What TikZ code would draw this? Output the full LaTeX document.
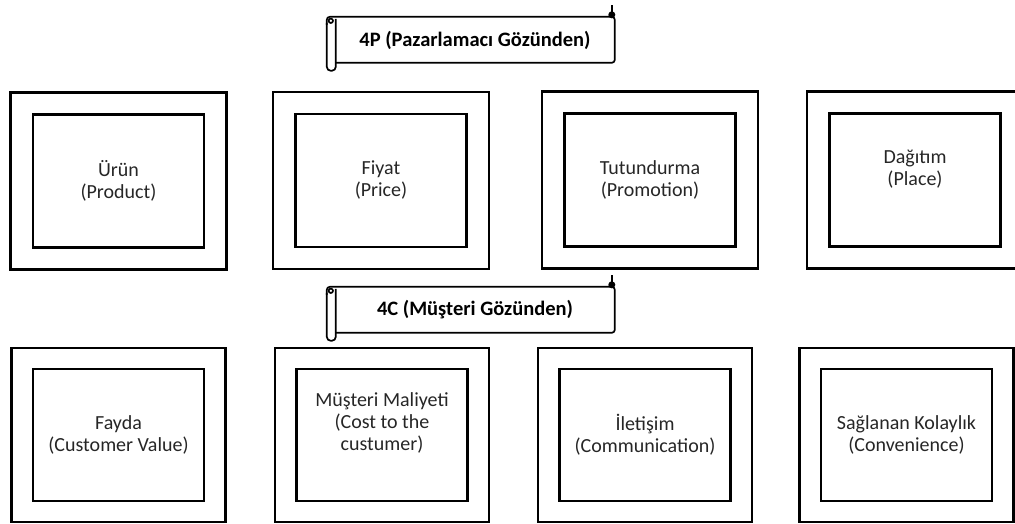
\documentclass[tikz,border=0pt]{standalone}
\usepackage{fontspec}
\setmainfont{Carlito}
\usepackage{tikz}
\usetikzlibrary{positioning}

\tikzset{
  outerbox/.style={draw, line width=2.2pt, minimum width=216pt,
                   minimum height=177pt, inner sep=0pt},
  lowerbox/.style={outerbox, minimum width=214pt, minimum height=174pt},
  innerbox/.style={draw, line width=2.2pt, minimum width=171pt,
                   minimum height=133pt, inner sep=0pt},
  boxtext/.style={align=center, inner sep=0pt, text=black!85,
                  font=\fontsize{20}{22}\selectfont},
  bannertext/.style={minimum width=280pt, minimum height=46pt, inner sep=0pt,
                     font=\fontsize{20.5}{22}\selectfont\bfseries},
  scrollline/.style={line width=1.7pt, line join=round},
}

% scroll frame round a banner node
\newcommand{\scrollframe}[1]{%
  \begin{scope}[shift={(#1.north west)}]
    \draw[scrollline, rounded corners=3pt] (-8,8) -- (-8,0) -- (280,0)
      -- (280,46) -- (1,46);
    \draw[scrollline, rounded corners=4pt] (-8,6) -- (-8,54) -- (1,54) -- (1,2);
    \draw[scrollline] (-4,4) circle[radius=2.2];
    \draw[scrollline] (277,0) -- (277,-12);
    \fill (277,-2) circle[radius=3.5];
  \end{scope}}

\begin{document}
\begin{tikzpicture}[x=1pt, y=-1pt]
  \useasboundingbox (0,0) rectangle (1015,524);

  % 4P banner
  \node[bannertext] (banner4p) at (475,40) {4P (Pazarlamacı Gözünden)};
  \scrollframe{banner4p}

  % 4P boxes
  \node[outerbox] (urunOut) at (118.5,181) {};
  \node[innerbox] (urun) at (urunOut.center) {};
  \node[boxtext] (urunText) at (urun.center) {Ürün\\(Product)};

  \node[outerbox] (fiyatOut) at (381,180.5) {};
  \node[innerbox] (fiyat) at (fiyatOut.center) {};
  \node[boxtext] (fiyatText) at (fiyat.center) {Fiyat\\(Price)};

  \node[outerbox] (tutundurmaOut) at (650,180) {};
  \node[innerbox] (tutundurma) at (tutundurmaOut.center) {};
  \node[boxtext] (tutundurmaText) at (tutundurma.center) {Tutundurma\\(Promotion)};

  \node[outerbox] (dagitimOut) at (915,180) {};
  \node[innerbox] (dagitim) at (dagitimOut.center) {};
  \node[boxtext] (dagitimText) at ([yshift=11pt]dagitim.center) {Dağıtım\\(Place)};

  % 4C banner
  \node[bannertext] (banner4c) at (475,310) {4C (Müşteri Gözünden)};
  \scrollframe{banner4c}

  % 4C boxes
  \node[lowerbox] (faydaOut) at (118.5,435) {};
  \node[innerbox, minimum height=132pt] (fayda) at (faydaOut.center) {};
  \node[boxtext] (faydaText) at (fayda.center) {Fayda\\(Customer Value)};

  \node[lowerbox] (maliyetOut) at (382,435) {};
  \node[innerbox, minimum height=132pt] (maliyet) at (maliyetOut.center) {};
  \node[boxtext] (maliyetText) at ([yshift=12pt]maliyet.center)
    {Müşteri Maliyeti\\(Cost to the\\custumer)};

  \node[lowerbox] (iletisimOut) at (645,435) {};
  \node[innerbox, minimum height=132pt] (iletisim) at (iletisimOut.center) {};
  \node[boxtext] (iletisimText) at (iletisim.center) {İletişim\\(Communication)};

  \node[lowerbox] (kolaylikOut) at (906.5,435) {};
  \node[innerbox, minimum height=132pt] (kolaylik) at (kolaylikOut.center) {};
  \node[boxtext] (kolaylikText) at (kolaylik.center) {Sağlanan Kolaylık\\(Convenience)};
\end{tikzpicture}
\end{document}
